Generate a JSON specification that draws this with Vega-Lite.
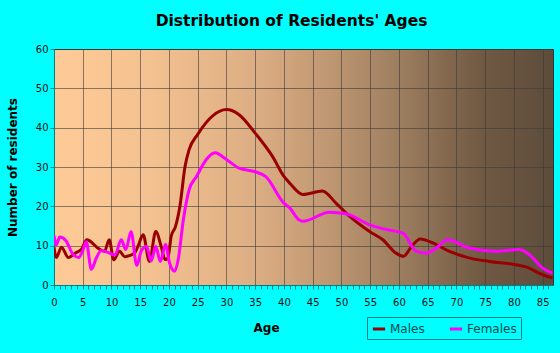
{
  "$schema": "https://vega.github.io/schema/vega-lite/v6.json",
  "width": 499,
  "height": 236,
  "autosize": "none",
  "padding": {"left": 54, "top": 49, "right": 7, "bottom": 68},
  "background": "#00FFFF",
  "view": {
    "stroke": "#333333",
    "fill": {
      "gradient": "linear", "x1": 0, "y1": 0, "x2": 1, "y2": 0,
      "stops": [
        {"offset": 0, "color": "#FECB98"},
        {"offset": 0.2, "color": "#F3C08F"},
        {"offset": 0.4, "color": "#DDAE84"},
        {"offset": 0.55, "color": "#BF9772"},
        {"offset": 0.7, "color": "#9B7C5E"},
        {"offset": 0.85, "color": "#725A44"},
        {"offset": 1, "color": "#5D4C3B"}
      ]
    }
  },
  "title": {
    "text": "Distribution of Residents' Ages",
    "font": "DejaVu Sans",
    "fontSize": 15.5,
    "fontWeight": "bold",
    "color": "#000000",
    "anchor": "middle",
    "dx": -12,
    "offset": 15
  },
  "data": {
    "values": [
      {"sex": "Males", "age": 0, "n": 9.6},
      {"sex": "Males", "age": 0.4, "n": 7},
      {"sex": "Males", "age": 1.3, "n": 9.6},
      {"sex": "Males", "age": 2.5, "n": 7},
      {"sex": "Males", "age": 3.9, "n": 8.3},
      {"sex": "Males", "age": 4.8, "n": 9.1},
      {"sex": "Males", "age": 5.7, "n": 11.5},
      {"sex": "Males", "age": 7.9, "n": 9.1},
      {"sex": "Males", "age": 8.8, "n": 8.6},
      {"sex": "Males", "age": 9.6, "n": 11.5},
      {"sex": "Males", "age": 10.4, "n": 6.4},
      {"sex": "Males", "age": 11.4, "n": 8.6},
      {"sex": "Males", "age": 12.3, "n": 7.2},
      {"sex": "Males", "age": 14, "n": 8.1},
      {"sex": "Males", "age": 14.6, "n": 9.8},
      {"sex": "Males", "age": 15.5, "n": 12.8},
      {"sex": "Males", "age": 16.6, "n": 6},
      {"sex": "Males", "age": 17.7, "n": 13.6},
      {"sex": "Males", "age": 18.7, "n": 9.5},
      {"sex": "Males", "age": 19.3, "n": 6.5},
      {"sex": "Males", "age": 19.8, "n": 6.8},
      {"sex": "Males", "age": 20.4, "n": 12.5},
      {"sex": "Males", "age": 21.1, "n": 14.7},
      {"sex": "Males", "age": 21.9, "n": 20},
      {"sex": "Males", "age": 22.8, "n": 30.2},
      {"sex": "Males", "age": 23.5, "n": 34.4},
      {"sex": "Males", "age": 25, "n": 38.3},
      {"sex": "Males", "age": 27.6, "n": 43},
      {"sex": "Males", "age": 30, "n": 44.6},
      {"sex": "Males", "age": 32.2, "n": 43.3},
      {"sex": "Males", "age": 35, "n": 38.6},
      {"sex": "Males", "age": 38, "n": 32.7},
      {"sex": "Males", "age": 40, "n": 27.6},
      {"sex": "Males", "age": 41, "n": 25.9},
      {"sex": "Males", "age": 43.3, "n": 23},
      {"sex": "Males", "age": 46.7, "n": 23.9},
      {"sex": "Males", "age": 49, "n": 20.9},
      {"sex": "Males", "age": 51.4, "n": 17.5},
      {"sex": "Males", "age": 54.9, "n": 13.6},
      {"sex": "Males", "age": 57.2, "n": 11.5},
      {"sex": "Males", "age": 59.5, "n": 8.1},
      {"sex": "Males", "age": 60.8, "n": 7.3},
      {"sex": "Males", "age": 62.2, "n": 9.8},
      {"sex": "Males", "age": 63.7, "n": 11.7},
      {"sex": "Males", "age": 65.9, "n": 10.7},
      {"sex": "Males", "age": 68.7, "n": 8.6},
      {"sex": "Males", "age": 72.2, "n": 6.9},
      {"sex": "Males", "age": 75.7, "n": 6},
      {"sex": "Males", "age": 80.1, "n": 5.2},
      {"sex": "Males", "age": 82.1, "n": 4.6},
      {"sex": "Males", "age": 85, "n": 2.6},
      {"sex": "Males", "age": 86.7, "n": 1.8},
      {"sex": "Females", "age": 0, "n": 12.6},
      {"sex": "Females", "age": 0.4, "n": 10.2},
      {"sex": "Females", "age": 1, "n": 12.2},
      {"sex": "Females", "age": 2.1, "n": 11.2},
      {"sex": "Females", "age": 3.3, "n": 7.8},
      {"sex": "Females", "age": 4.3, "n": 7},
      {"sex": "Females", "age": 5, "n": 8.7},
      {"sex": "Females", "age": 5.6, "n": 11},
      {"sex": "Females", "age": 6.5, "n": 4},
      {"sex": "Females", "age": 7.4, "n": 7},
      {"sex": "Females", "age": 8.2, "n": 8.7},
      {"sex": "Females", "age": 9.4, "n": 8.3},
      {"sex": "Females", "age": 10.6, "n": 7.6},
      {"sex": "Females", "age": 11.7, "n": 11.5},
      {"sex": "Females", "age": 12.5, "n": 9},
      {"sex": "Females", "age": 13.4, "n": 13.6},
      {"sex": "Females", "age": 14.4, "n": 5},
      {"sex": "Females", "age": 15.2, "n": 8.7},
      {"sex": "Females", "age": 16.1, "n": 9.8},
      {"sex": "Females", "age": 16.9, "n": 6.1},
      {"sex": "Females", "age": 17.7, "n": 9.8},
      {"sex": "Females", "age": 18.5, "n": 6},
      {"sex": "Females", "age": 19.4, "n": 10.3},
      {"sex": "Females", "age": 20.1, "n": 5.6},
      {"sex": "Females", "age": 21, "n": 3.5},
      {"sex": "Females", "age": 21.6, "n": 6.4},
      {"sex": "Females", "age": 22.5, "n": 16.6},
      {"sex": "Females", "age": 23.5, "n": 24.2},
      {"sex": "Females", "age": 24.8, "n": 27.6},
      {"sex": "Females", "age": 26.5, "n": 31.9},
      {"sex": "Females", "age": 28, "n": 33.6},
      {"sex": "Females", "age": 30, "n": 31.9},
      {"sex": "Females", "age": 32.2, "n": 29.7},
      {"sex": "Females", "age": 35, "n": 28.8},
      {"sex": "Females", "age": 36.8, "n": 27.6},
      {"sex": "Females", "age": 40, "n": 20.8},
      {"sex": "Females", "age": 41, "n": 19.6},
      {"sex": "Females", "age": 42.6, "n": 16.6},
      {"sex": "Females", "age": 43.3, "n": 16.2},
      {"sex": "Females", "age": 47.9, "n": 18.5},
      {"sex": "Females", "age": 50.8, "n": 18.1},
      {"sex": "Females", "age": 54.9, "n": 15.3},
      {"sex": "Females", "age": 57.8, "n": 14.1},
      {"sex": "Females", "age": 60.7, "n": 13.2},
      {"sex": "Females", "age": 63, "n": 8.6},
      {"sex": "Females", "age": 64.8, "n": 8.1},
      {"sex": "Females", "age": 66.5, "n": 9.4},
      {"sex": "Females", "age": 68.5, "n": 11.5},
      {"sex": "Females", "age": 72.2, "n": 9.4},
      {"sex": "Females", "age": 76.9, "n": 8.6},
      {"sex": "Females", "age": 80.9, "n": 9},
      {"sex": "Females", "age": 82.7, "n": 7.7},
      {"sex": "Females", "age": 85, "n": 4.3},
      {"sex": "Females", "age": 86.7, "n": 3}
    ]
  },
  "mark": {"type": "line", "interpolate": "monotone", "strokeWidth": 3, "clip": true},
  "encoding": {
    "x": {
      "field": "age", "type": "quantitative",
      "scale": {"domain": [0, 86.8], "nice": false, "zero": false},
      "axis": {
        "title": "Age",
        "titleFont": "DejaVu Sans", "titleFontSize": 12, "titleFontWeight": "bold", "titleColor": "#000000",
        "titleX": 212, "titleY": 42, "titleBaseline": "middle",
        "values": [0,1,2,3,4,5,6,7,8,9,10,11,12,13,14,15,16,17,18,19,20,21,22,23,24,25,26,27,28,29,30,31,32,33,34,35,36,37,38,39,40,41,42,43,44,45,46,47,48,49,50,51,52,53,54,55,56,57,58,59,60,61,62,63,64,65,66,67,68,69,70,71,72,73,74,75,76,77,78,79,80,81,82,83,84,85,86],
        "labelExpr": "datum.value % 5 === 0 ? datum.label : ''",
        "labelFont": "DejaVu Sans", "labelFontSize": 10, "labelColor": "#111111",
        "labelPadding": 8, "labelOverlap": false, "labelFlush": false,
        "tickSize": 4, "tickColor": "#008080", "domainColor": "#008080",
        "grid": true, "gridColor": "#3A3A3A", "gridOpacity": {"condition": {"test": "datum.value % 5 === 0", "value": 0.6}, "value": 0}
      }
    },
    "y": {
      "field": "n", "type": "quantitative",
      "scale": {"domain": [0, 60], "nice": false},
      "axis": {
        "title": "Number of residents",
        "titleFont": "DejaVu Sans", "titleFontSize": 12, "titleFontWeight": "bold", "titleColor": "#000000",
        "titleX": -42, "titleY": 118, "titleBaseline": "middle", "titleAngle": -90,
        "values": [0, 10, 20, 30, 40, 50, 60],
        "labelFont": "DejaVu Sans", "labelFontSize": 10, "labelColor": "#111111",
        "labelPadding": 2,
        "tickSize": 4, "tickColor": "#008080", "domainColor": "#008080",
        "grid": true, "gridColor": "#3A3A3A", "gridOpacity": 0.6
      }
    },
    "color": {
      "field": "sex", "type": "nominal",
      "scale": {"domain": ["Males", "Females"], "range": ["#990000", "#FF00FF"]},
      "legend": {
        "title": null,
        "orient": "none", "legendX": 313, "legendY": 268,
        "direction": "horizontal",
        "strokeColor": "#008080", "padding": 4,
        "symbolType": "stroke", "symbolStrokeWidth": 3, "symbolSize": 150,
        "labelFont": "DejaVu Sans", "labelFontSize": 12, "labelColor": "#004848",
        "columnPadding": 18, "labelOffset": 3
      }
    }
  }
}
